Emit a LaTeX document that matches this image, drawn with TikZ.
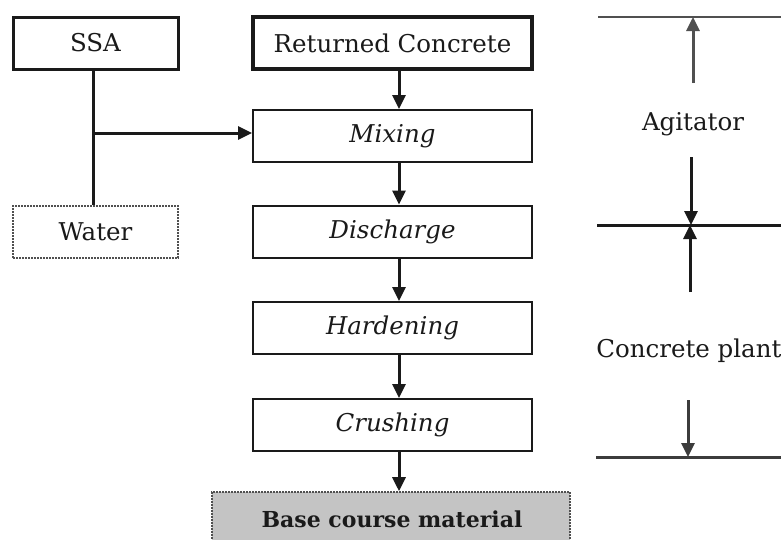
\documentclass[tikz,border=0pt]{standalone}
\usepackage{fontspec}
\setmainfont{DejaVu Serif}
\usetikzlibrary{arrows.meta}
\definecolor{ink}{HTML}{1A1A1A}
\definecolor{greyink}{HTML}{505050}
\definecolor{basefill}{HTML}{C4C4C4}
\tikzset{
  box/.style={draw=ink, line width=2pt, minimum width=279pt, minimum height=52pt,
              inner sep=0pt, text=ink, font=\fontsize{24.5}{28}\selectfont},
  srcbox/.style={box, minimum width=165pt},
  flow/.style={draw=ink, line width=3pt, -{Triangle[width=13pt,length=14pt]}},
  level/.style={line width=3pt},
  lbl/.style={text=ink, font=\fontsize{24.5}{28}\selectfont}
}
\begin{document}
\begin{tikzpicture}[x=1pt, y=-1pt]
\clip (0,0) rectangle (781,539);
\fill[white] (0,0) rectangle (781,539);

% left column: inputs
\node[srcbox, line width=3pt] (ssa) at (95.5,43) {SSA};
\node[srcbox, draw=greyink, densely dotted, line width=1.6pt] (water) at (95.5,232) {Water};

% main process column
\node[box, line width=3.6pt] (rc) at (392.5,43) {Returned Concrete};
\node[box] (mix) at (392.5,136) {\itshape Mixing};
\node[box] (dis) at (392.5,231.5) {\itshape Discharge};
\node[box] (hard) at (392.5,328) {\itshape Hardening};
\node[box] (crush) at (392.5,425) {\itshape Crushing};
\node[box, draw=greyink, densely dotted, line width=1.6pt, fill=basefill,
      minimum width=358pt, minimum height=58pt] (base) at (391,521) {};
\node[lbl, font=\fontsize{22}{26}\selectfont\bfseries] (basetxt) at (392,519) {Base course material};

% SSA and water join and feed the mixer
\coordinate (feed) at (93,0);
\draw[ink, line width=3pt] (ssa.south -| feed) -- (water.north -| feed);
\coordinate (join) at (93,133);
\draw[flow] (join) -- (mix.west |- join);

% process arrows, slightly right of the box centres
\coordinate (col) at (399,0);
\draw[flow] (rc.south -| col) -- (mix.north -| col);
\draw[flow] (mix.south -| col) -- (dis.north -| col);
\draw[flow] (dis.south -| col) -- (hard.north -| col);
\draw[flow] (hard.south -| col) -- (crush.north -| col);
\draw[flow] (crush.south -| col) -- (base.north -| col);

% stage brackets on the right
\coordinate (topL) at (598,17);   \coordinate (topR) at (781,17);
\coordinate (midL) at (597,225);  \coordinate (midR) at (781,225);
\coordinate (botL) at (596,457);  \coordinate (botR) at (781,457);
\draw[greyink, line width=2.4pt] (topL) -- (topR);
\draw[ink, level] (midL) -- (midR);
\draw[ink!85, level] (botL) -- (botR);

\node[lbl] (agit) at (693,124) {Agitator};
\node[lbl, anchor=east] (plant) at (785,351) {Concrete plant};

\coordinate (a1) at (693,83);  \coordinate (a1t) at (693,17);
\coordinate (a2) at (691,157); \coordinate (a2t) at (691,225);
\coordinate (a3) at (690,292); \coordinate (a3t) at (690,225);
\coordinate (a4) at (688,400); \coordinate (a4t) at (688,457);
\draw[flow, draw=greyink, fill=greyink] (a1) -- (a1t);
\draw[flow] (a2) -- (a2t);
\draw[flow] (a3) -- (a3t);
\draw[flow, draw=ink!85, fill=ink!85] (a4) -- (a4t);
\end{tikzpicture}
\end{document}
